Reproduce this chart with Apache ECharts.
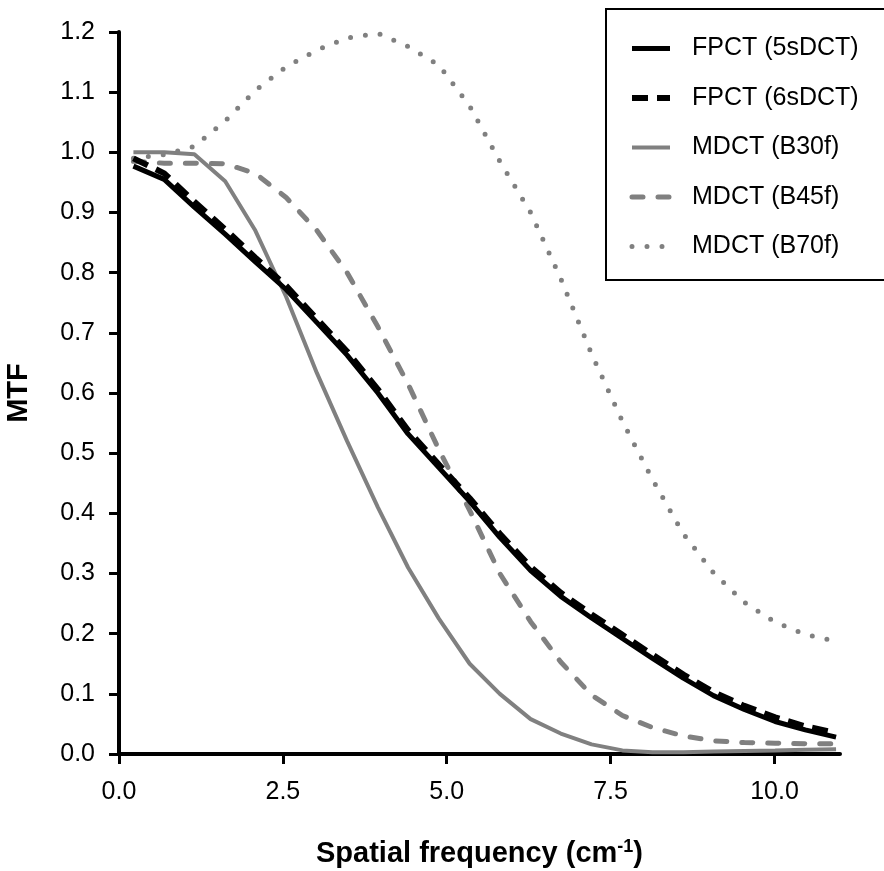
<!DOCTYPE html>
<html>
<head>
<meta charset="utf-8">
<script src="https://cdn.jsdelivr.net/npm/echarts@6/dist/echarts.min.js"></script>
<style>
  html, body { margin: 0; padding: 0; background: #fff; }
  #chart { width: 884px; height: 871px; }
</style>
</head>
<body>
<div id="chart"></div>
<script>
// spatial frequency samples (cm^-1)
const freq = [0.22, 0.69, 1.15, 1.62, 2.08, 2.55, 3.02, 3.48, 3.95, 4.41, 4.88, 5.35,
              5.81, 6.28, 6.74, 7.21, 7.68, 8.14, 8.61, 9.07, 9.54, 10.01, 10.47, 10.94];

// MTF values
const fpct5 = [0.977, 0.955, 0.909, 0.864, 0.818, 0.772, 0.717, 0.663, 0.600, 0.532, 0.476, 0.420,
               0.360, 0.305, 0.262, 0.226, 0.192, 0.159, 0.126, 0.097, 0.074, 0.054, 0.040, 0.028];
const fpct6 = [0.990, 0.965, 0.918, 0.872, 0.825, 0.778, 0.723, 0.669, 0.606, 0.538, 0.481, 0.425,
               0.366, 0.311, 0.268, 0.232, 0.198, 0.165, 0.132, 0.103, 0.080, 0.061, 0.046, 0.035];
const b30f = [1.000, 1.000, 0.997, 0.952, 0.870, 0.760, 0.633, 0.520, 0.410, 0.310, 0.225, 0.150,
              0.100, 0.058, 0.034, 0.016, 0.006, 0.003, 0.003, 0.004, 0.005, 0.006, 0.007, 0.008];
const b45f = [0.985, 0.982, 0.982, 0.981, 0.965, 0.925, 0.870, 0.800, 0.710, 0.615, 0.506, 0.405,
              0.300, 0.220, 0.153, 0.098, 0.064, 0.044, 0.030, 0.022, 0.019, 0.018, 0.017, 0.017];
const b70f = [0.990, 0.996, 1.010, 1.052, 1.103, 1.142, 1.170, 1.190, 1.198, 1.176, 1.145, 1.077,
              0.985, 0.900, 0.790, 0.665, 0.553, 0.456, 0.366, 0.301, 0.252, 0.219, 0.199, 0.187];

const names = ['FPCT (5sDCT)', 'FPCT (6sDCT)', 'MDCT (B30f)', 'MDCT (B45f)', 'MDCT (B70f)'];
const xTicks = [0, 2.5, 5, 7.5, 10];

const GRAY = '#808080';
const pairs = vals => vals.map((v, i) => [freq[i], v]);

const chart = echarts.init(document.getElementById('chart'));

const lineSeries = (name, vals, style, z) => ({
  name: name,
  type: 'line',
  data: pairs(vals),
  symbol: 'none',
  showSymbol: false,
  z: z,
  itemStyle: { color: style.color },
  lineStyle: style
});

chart.setOption({
  animation: false,
  textStyle: { fontFamily: 'Liberation Sans, Arial, sans-serif' },
  grid: { left: 119, right: 44, top: 32, bottom: 117, outerBoundsMode: 'none' },
  legend: {
    orient: 'vertical',
    left: 606,
    top: 9,
    padding: [27, 60, 21, 23],
    itemWidth: 38,
    itemHeight: 24,
    itemGap: 24.5,
    borderColor: '#000',
    borderWidth: 2,
    data: names,
    itemStyle: { opacity: 0 },   // hide the marker, keep the line
    lineStyle: { width: 'inherit' },
    textStyle: { fontSize: 25, color: '#000', padding: [0, 0, 0, 17], lineHeight: 24 }
  },
  xAxis: {
    type: 'value',
    min: 0,
    max: 11,
    name: 'Spatial frequency (cm{sup|-1})',
    nameLocation: 'middle',
    nameGap: 84,
    nameTextStyle: {
      fontSize: 29, fontWeight: 'bold', color: '#000',
      rich: { sup: { fontSize: 18, fontWeight: 'bold', verticalAlign: 'top', padding: [0, 0, 14, 0] } }
    },
    splitLine: { show: false },
    axisLine: { lineStyle: { color: '#000', width: 4 } },
    axisTick: { customValues: xTicks, length: 10, lineStyle: { color: '#000', width: 3 } },
    axisLabel: {
      customValues: xTicks, fontSize: 25, color: '#000', margin: 26,
      formatter: v => v.toFixed(1)
    }
  },
  yAxis: {
    type: 'value',
    min: 0,
    max: 1.2,
    interval: 0.1,
    name: 'MTF',
    nameLocation: 'middle',
    nameGap: 86,
    nameTextStyle: { fontSize: 29, fontWeight: 'bold', color: '#000' },
    splitLine: { show: false },
    axisLine: { show: true, lineStyle: { color: '#000', width: 4 } },
    axisTick: { show: true, length: 10, lineStyle: { color: '#000', width: 3 } },
    axisLabel: { fontSize: 25, color: '#000', margin: 24, formatter: v => v.toFixed(1) }
  },
  series: [
    lineSeries(names[0], fpct5, { color: '#000', width: 5, type: 'solid' }, 5),
    lineSeries(names[1], fpct6, { color: '#000', width: 6, type: [16, 9], cap: 'butt' }, 4),
    lineSeries(names[2], b30f, { color: GRAY, width: 4, type: 'solid' }, 3),
    lineSeries(names[3], b45f, { color: GRAY, width: 5, type: [11, 15], cap: 'round' }, 2),
    lineSeries(names[4], b70f, { color: GRAY, width: 5, type: [0, 15], cap: 'round' }, 2)
  ]
});
</script>
</body>
</html>
